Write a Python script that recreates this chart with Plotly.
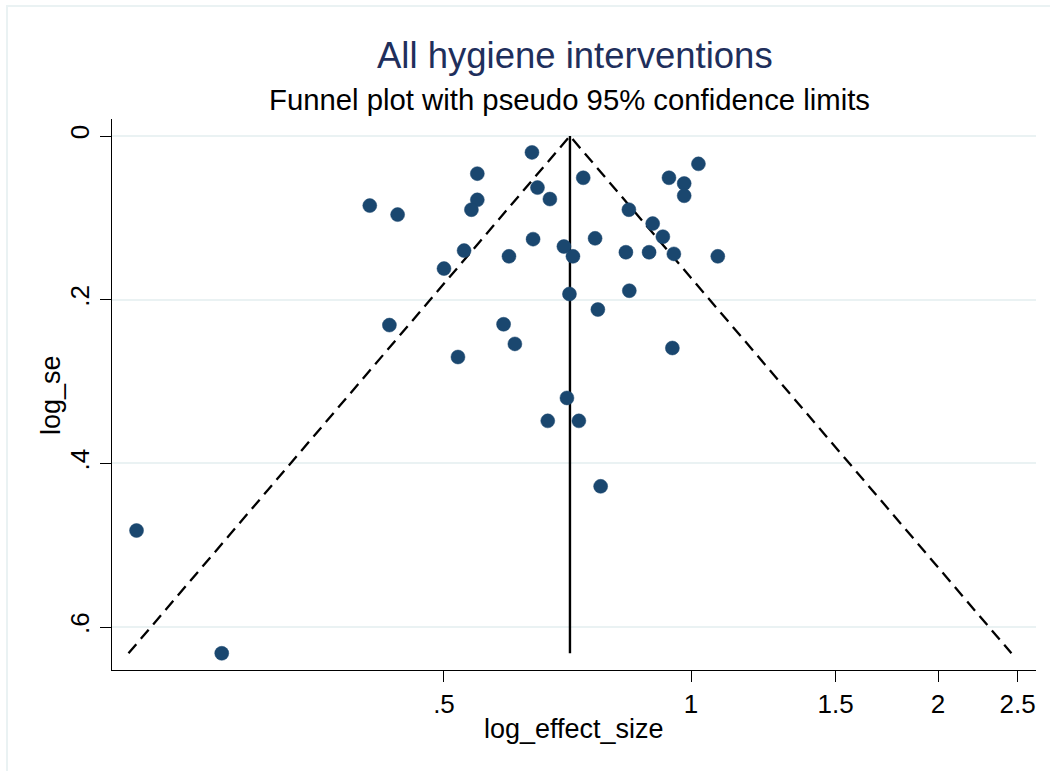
import math
import plotly.graph_objects as go

# ---- data ----
effect_size = [0.640, 0.549, 0.739, 1.021, 0.940, 0.981, 0.981, 0.650, 0.673, 0.406,
               0.439, 0.549, 0.540, 0.840, 0.898, 0.924, 0.642, 0.764, 0.700, 0.529,
               0.600, 0.718, 0.833, 0.889, 0.953, 1.078, 0.500, 0.711, 0.841, 0.770,
               0.429, 0.591, 0.610, 0.949, 0.520, 0.706, 0.669, 0.730, 0.776, 0.211,
               0.268]
log_se = [0.020, 0.046, 0.051, 0.034, 0.051, 0.058, 0.073, 0.063, 0.077, 0.085,
          0.096, 0.078, 0.090, 0.090, 0.107, 0.123, 0.126, 0.125, 0.135, 0.140,
          0.147, 0.147, 0.142, 0.142, 0.144, 0.147, 0.162, 0.193, 0.189, 0.212,
          0.231, 0.230, 0.254, 0.259, 0.270, 0.320, 0.348, 0.348, 0.428, 0.482,
          0.632]
pooled_effect = 0.712
z95 = 1.96

x_ticks = [0.5, 1, 1.5, 2, 2.5]
x_tick_labels = [".5", "1", "1.5", "2", "2.5"]
y_ticks = [0, 0.2, 0.4, 0.6]
y_tick_labels = ["0", ".2", ".4", ".6"]

title_text = "All hygiene interventions"
subtitle_text = "Funnel plot with pseudo 95% confidence limits"
x_title = "log_effect_size"
y_title = "log_se"

# ---- derived funnel ----
se_max = max(log_se)
lo_end = math.exp(math.log(pooled_effect) - z95 * se_max)
hi_end = math.exp(math.log(pooled_effect) + z95 * se_max)

FONT = "Liberation Sans, Arial, sans-serif"
W, H = 1050, 771
ML, MR, MT, MB = 112, 14, 119, 101
PW, PH = W - ML - MR, H - MT - MB

def px_x(p):
    return (p - ML) / PW

def px_y(p):
    return (H - MB - p) / PH

fig = go.Figure()

fig.add_trace(go.Scatter(
    x=[lo_end, pooled_effect, hi_end], y=[se_max, 0, se_max],
    mode="lines", line=dict(color="black", width=2.3, dash="12px,7px"),
    hoverinfo="skip", showlegend=False))
fig.add_trace(go.Scatter(
    x=[pooled_effect, pooled_effect], y=[0, se_max],
    mode="lines", line=dict(color="black", width=2.4),
    hoverinfo="skip", showlegend=False))
fig.add_trace(go.Scatter(
    x=effect_size, y=log_se, mode="markers",
    marker=dict(color="#1a476f", size=14, line=dict(width=0.5, color="#1a476f")),
    showlegend=False))

fig.update_layout(
    width=W, height=H,
    margin=dict(l=ML, r=MR, t=MT, b=MB),
    paper_bgcolor="white", plot_bgcolor="white",
    font=dict(family=FONT, color="black"),
    xaxis=dict(
        type="log", range=[-0.7056, 0.4204],
        tickvals=x_ticks, ticktext=x_tick_labels,
        showgrid=False, zeroline=False,
        showline=True, linecolor="black", linewidth=1.3,
        ticks="outside", ticklen=11, tickcolor="black", tickwidth=1.3,
        tickfont=dict(size=26, family=FONT, color="black"),
    ),
    yaxis=dict(
        range=[0.6524, -0.0208],
        tickvals=y_ticks, ticktext=y_tick_labels,
        showgrid=True, gridcolor="#eaf2f3", gridwidth=1.5,
        zeroline=False,
        showline=True, linecolor="black", linewidth=1.3,
        ticks="outside", ticklen=11, tickcolor="black", tickwidth=1.3,
        tickangle=-90,
        tickfont=dict(size=26, family=FONT, color="black"),
    ),
    shapes=[dict(type="rect", xref="paper", yref="paper",
                 x0=px_x(7), x1=px_x(1056), y0=px_y(777), y1=px_y(6),
                 line=dict(color="#eaf2f3", width=2), fillcolor="rgba(0,0,0,0)",
                 layer="below")],
    annotations=[
        dict(text=title_text, xref="paper", yref="paper",
             x=px_x(575), y=px_y(56), xanchor="center", yanchor="middle",
             showarrow=False, font=dict(size=36.5, family=FONT, color="#1f2f5c")),
        dict(text=subtitle_text, xref="paper", yref="paper",
             x=px_x(569), y=px_y(99), xanchor="center", yanchor="middle",
             showarrow=False, font=dict(size=29.3, family=FONT, color="black")),
        dict(text=x_title, xref="paper", yref="paper",
             x=px_x(574), y=px_y(729), xanchor="center", yanchor="middle",
             showarrow=False, font=dict(size=27, family=FONT, color="black")),
        dict(text=y_title, xref="paper", yref="paper",
             x=px_x(51), y=px_y(395), xanchor="center", yanchor="middle",
             textangle=-90,
             showarrow=False, font=dict(size=27, family=FONT, color="black")),
    ],
)

fig.write_html("out.html")
